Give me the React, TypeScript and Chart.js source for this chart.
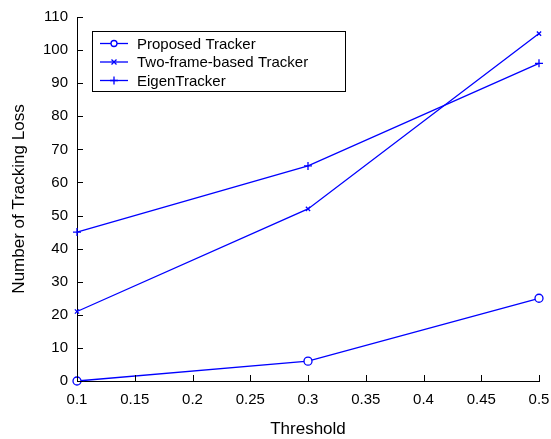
import React, { useEffect, useRef } from "react";
import { Chart, registerables } from "chart.js";

Chart.register(...registerables);

const thresholds = [0.1, 0.3, 0.5];
const proposed = [0, 6, 25];
const twoFrame = [21, 52, 105];
const eigen = [45, 65, 96];
const seriesNames = ["Proposed Tracker", "Two-frame-based Tracker", "EigenTracker"];
const markers = ["circle", "crossRot", "cross"];
const markerSizes = [4, 3, 4];

const FONT = "'Liberation Sans', Arial, Helvetica, sans-serif";
const BLUE = "#0000ff";

const insideTicks = {
  id: "insideTicks",
  afterDraw(chart: any) {
    const ctx = chart.ctx;
    const { left, bottom } = chart.chartArea;
    const xs = chart.scales.x;
    const ys = chart.scales.y;
    ctx.save();
    ctx.strokeStyle = "#000";
    ctx.lineWidth = 1;
    ctx.beginPath();
    xs.ticks.forEach((t: any) => {
      const px = Math.round(xs.getPixelForValue(t.value)) + 0.5;
      ctx.moveTo(px, bottom);
      ctx.lineTo(px, bottom - 6);
    });
    ys.ticks.forEach((t: any) => {
      const py = Math.round(ys.getPixelForValue(t.value)) + 0.5;
      ctx.moveTo(left, py);
      ctx.lineTo(left + 6, py);
    });
    ctx.stroke();

    // legend box
    const bx = 92.5, by = 31.5, bw = 253, bh = 60;
    ctx.fillStyle = "#fff";
    ctx.fillRect(bx, by, bw, bh);
    ctx.strokeStyle = "#000";
    ctx.strokeRect(bx, by, bw, bh);
    ctx.font = `15px ${FONT}`;
    ctx.textBaseline = "middle";
    chart.data.datasets.forEach((ds: any, i: number) => {
      const y = by + 12 + i * 18.5;
      ctx.strokeStyle = BLUE;
      ctx.lineWidth = 1.3;
      ctx.beginPath();
      ctx.moveTo(100, y);
      ctx.lineTo(128, y);
      ctx.stroke();
      ctx.fillStyle = "#000";
      ctx.fillText(ds.label, 137, y + 1);
      const mx = 114;
      const r = markerSizes[i];
      ctx.strokeStyle = BLUE;
      ctx.beginPath();
      if (markers[i] === "circle") {
        ctx.fillStyle = "#fff";
        ctx.arc(mx, y, r - 1, 0, Math.PI * 2);
        ctx.fill();
        ctx.stroke();
      } else if (markers[i] === "crossRot") {
        ctx.moveTo(mx - r + 0.5, y - r + 0.5);
        ctx.lineTo(mx + r - 0.5, y + r - 0.5);
        ctx.moveTo(mx + r - 0.5, y - r + 0.5);
        ctx.lineTo(mx - r + 0.5, y + r - 0.5);
        ctx.stroke();
      } else {
        ctx.moveTo(mx - r, y);
        ctx.lineTo(mx + r, y);
        ctx.moveTo(mx, y - r);
        ctx.lineTo(mx, y + r);
        ctx.stroke();
      }
    });
    ctx.restore();
  },
};

export default function App() {
  const ref = useRef<HTMLCanvasElement>(null);
  useEffect(() => {
    document.body.style.margin = "0";
    const values = [proposed, twoFrame, eigen];
    const chart = new Chart(ref.current!, {
      type: "line",
      data: {
        datasets: seriesNames.map((name, i) => ({
          label: name,
          data: thresholds.map((t, j) => ({ x: t, y: values[i][j] })),
          borderColor: BLUE,
          backgroundColor: i === 0 ? "#fff" : BLUE,
          borderWidth: 1.3,
          pointStyle: markers[i] as any,
          pointRadius: markerSizes[i],
          pointBorderWidth: 1.3,
          pointBorderColor: BLUE,
          tension: 0,
          clip: false as any,
        })),
      },
      options: {
        animation: false,
        responsive: false,
        layout: { padding: { top: 17, right: 12, left: 0, bottom: 0 } },
        plugins: { legend: { display: false }, tooltip: { enabled: false } },
        scales: {
          x: {
            type: "linear",
            min: 0.1,
            max: 0.5,
            afterFit: (s: any) => {
              s.height = 58;
              s.paddingRight = 0;
              s.paddingLeft = 0;
            },
            grid: { display: true, drawOnChartArea: false, drawTicks: false },
            border: { display: true, color: "#000", width: 1 },
            ticks: {
              stepSize: 0.05,
              padding: 10,
              color: "#000",
              font: { family: FONT, size: 15 },
              callback: (v: any) => String(Math.round(Number(v) * 100) / 100),
            },
            title: {
              display: true,
              text: "Threshold",
              color: "#000",
              font: { family: FONT, size: 17 },
              padding: { top: 0, bottom: -1 },
            },
          },
          y: {
            min: 0,
            max: 110,
            afterFit: (s: any) => {
              s.width = 77;
              s.paddingTop = 0;
              s.paddingBottom = 0;
            },
            grid: { display: true, drawOnChartArea: false, drawTicks: false },
            border: { display: true, color: "#000", width: 1 },
            ticks: {
              stepSize: 10,
              padding: 9,
              color: "#000",
              font: { family: FONT, size: 15 },
            },
            title: {
              display: true,
              text: "Number of Tracking Loss",
              color: "#000",
              font: { family: FONT, size: 17 },
              padding: { top: 9, bottom: 0 },
            },
          },
        },
      },
      plugins: [insideTicks],
    });
    return () => chart.destroy();
  }, []);
  return <canvas ref={ref} width={551} height={439} />;
}
